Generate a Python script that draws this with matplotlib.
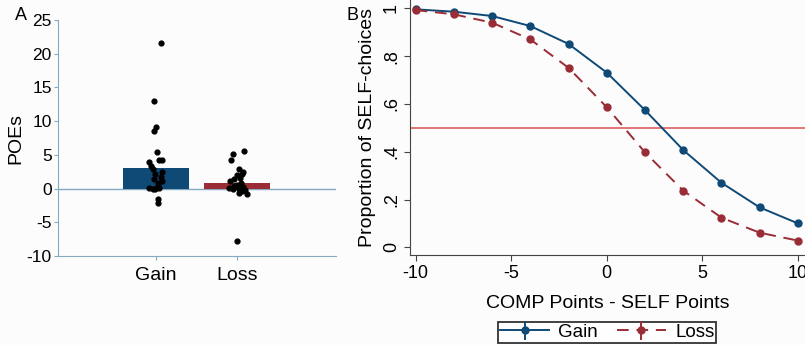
import matplotlib
matplotlib.use("Agg")
import matplotlib.pyplot as plt

plt.rcParams["font.family"] = ["Liberation Sans", "DejaVu Sans"]
plt.rcParams["axes.unicode_minus"] = False

# panel A: POEs per participant, bar = group mean
conditions = ["Gain", "Loss"]
poe_means = [3.1, 0.8]
gain_poes = [21.6, 13.0, 9.1, 8.5, 5.4, 4.3, 4.2, 4.0, 3.4, 2.9, 2.4, 2.1,
             1.7, 1.4, 1.1, 0.8, 0.4, 0.1, 0.0, 0.0, 0.1, -1.5, -2.1]
gain_jitter = [0.06, -0.02, 0.0, -0.03, 0.01, 0.07, 0.04, -0.09, -0.06, -0.04,
               0.08, -0.01, 0.06, -0.03, 0.07, 0.03, 0.02, -0.08, -0.04, -0.01,
               0.04, 0.02, 0.03]
loss_poes = [5.6, 5.1, 4.3, 2.9, 2.5, 2.2, 2.0, 1.6, 1.4, 1.1, 0.8, 0.6, 0.4,
             0.2, 0.1, 0.0, 0.0, -0.2, -0.4, -0.6, -0.8, -7.8]
loss_jitter = [0.09, -0.05, -0.07, 0.02, 0.07, 0.06, 0.0, 0.04, -0.04, -0.09,
               0.05, 0.0, -0.03, 0.08, -0.1, 0.02, -0.05, 0.1, 0.06, 0.03,
               0.12, 0.0]

# panel B: proportion of SELF choices
diffs = [-10, -8, -6, -4, -2, 0, 2, 4, 6, 8, 10]
gain_prop = [0.996, 0.986, 0.968, 0.926, 0.851, 0.731, 0.574, 0.407, 0.270, 0.167, 0.100]
loss_prop = [0.993, 0.975, 0.940, 0.870, 0.751, 0.586, 0.397, 0.237, 0.124, 0.061, 0.028]
gain_se = [0.004, 0.005, 0.006, 0.008, 0.011, 0.013, 0.013, 0.012, 0.010, 0.008, 0.007]
loss_se = [0.004, 0.006, 0.007, 0.010, 0.013, 0.013, 0.013, 0.011, 0.008, 0.006, 0.004]

BLUE = "#0f4a76"
RED = "#9a2c36"
AXC = "#86a9bf"

fig = plt.figure(figsize=(8.05, 3.45), dpi=100, facecolor="#fcfcfd")

# ---- A
ax = fig.add_axes([0.072, 0.258, 0.345, 0.684], facecolor="#fcfcfd")
ax.bar([0, 1], poe_means, width=0.81, color=[BLUE, RED], zorder=2)
ax.axhline(0, color=AXC, lw=1, zorder=1)
ax.scatter([0 + j for j in gain_jitter], gain_poes, s=12, color="black", zorder=3)
ax.scatter([1 + j for j in loss_jitter], loss_poes, s=12, color="black", zorder=3)
ax.set_xlim(-1.21, 2.22)
ax.set_ylim(-10, 25)
ax.set_yticks(range(-10, 30, 5))
ax.set_xticks([0, 1])
ax.set_xticklabels(conditions)
ax.set_ylabel("POEs", fontsize=14)
ax.yaxis.set_label_coords(-0.12, 0.5)
for s in ("top", "right"):
    ax.spines[s].set_visible(False)
for s in ("left", "bottom"):
    ax.spines[s].set_color(AXC)
ax.tick_params(colors=AXC, labelcolor="black", labelsize=12.5, length=3, pad=1.5)
ax.tick_params(axis="x", labelsize=14, pad=5)
fig.text(0.018, 0.955, "A", fontsize=13, va="center")

# ---- B
bx = fig.add_axes([0.509, 0.261, 0.491, 0.739], facecolor="#fcfcfd")
bx.axhline(0.5, color="#e06a6e", lw=1.3, zorder=1)
bx.errorbar(diffs, gain_prop, yerr=gain_se, color=BLUE, marker="o", ms=5,
            lw=1.4, elinewidth=1.4, label="Gain", zorder=3)
bx.errorbar(diffs, loss_prop, yerr=loss_se, color=RED, marker="o", ms=5,
            lw=1.4, elinewidth=1.4, ls=(0, (6, 4)), label="Loss", zorder=3)
bx.set_xlim(-10.31, 10.37)
bx.set_ylim(-0.032, 1.035)
bx.set_xticks([-10, -5, 0, 5, 10])
bx.set_yticks([0, 0.2, 0.4, 0.6, 0.8, 1])
bx.set_yticklabels(["0", ".2", ".4", ".6", ".8", "1"], rotation=90, va="center")
bx.set_xlabel("COMP Points - SELF Points", fontsize=14)
bx.xaxis.set_label_coords(0.5, -0.157)
bx.set_ylabel("Proportion of SELF-choices", fontsize=14)
bx.yaxis.set_label_coords(-0.086, 0.5)
for s in ("top", "right"):
    bx.spines[s].set_visible(False)
for s in ("left", "bottom"):
    bx.spines[s].set_color("#444444")
bx.tick_params(labelsize=13, length=4, color="#444444", pad=3)
leg = bx.legend(loc="upper center", bbox_to_anchor=(0.5, -0.225), ncol=2,
                fontsize=13.5, frameon=True, fancybox=False, handlelength=2.6,
                borderpad=0.1, columnspacing=1.0, handletextpad=0.5)
leg.get_frame().set_edgecolor("black")
leg.get_frame().set_linewidth(1.3)
fig.text(0.431, 0.955, "B", fontsize=13, va="center")

fig.savefig("out.png", dpi=100, facecolor=fig.get_facecolor())
